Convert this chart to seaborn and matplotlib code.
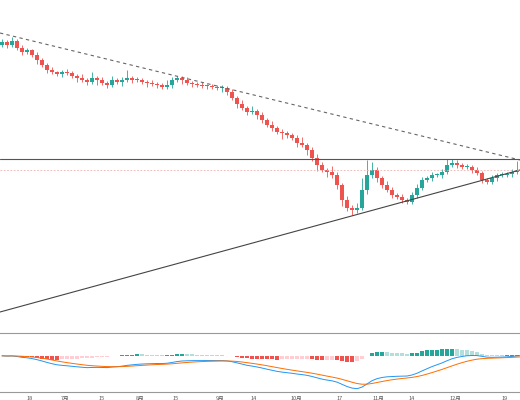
import numpy as np
import pandas as pd
import seaborn as sns
import matplotlib.pyplot as plt

# closing prices, one per candle (open = previous close)
closes = [35.8, 35.5, 35.9, 35.2, 34.8, 35.0, 34.5, 34.0, 33.5, 33.0, 32.8, 32.6, 32.8, 32.7, 32.4,
          32.2, 32.0, 31.8, 32.2, 32.0, 31.7, 31.5, 32.0, 31.8, 32.0, 32.2, 32.0, 32.0, 31.8, 31.7,
          31.6, 31.5, 31.3, 31.5, 32.0, 32.2, 32.0, 31.7, 31.6, 31.5, 31.4, 31.4, 31.3, 31.2, 31.2,
          30.8, 30.2, 29.6, 29.2, 28.8, 28.9, 28.5, 28.0, 27.5, 27.2, 26.8, 26.7, 26.5, 26.2, 25.7,
          25.5, 25.0, 24.2, 23.5, 23.0, 22.8, 22.5, 21.5, 20.0, 19.2, 19.0, 19.2, 21.0, 22.5, 23.0,
          22.2, 21.5, 21.0, 20.5, 20.3, 20.0, 19.8, 20.5, 21.2, 22.0, 22.2, 22.5, 22.5, 22.8, 23.5,
          23.7, 23.5, 23.3, 23.3, 23.0, 22.7, 22.0, 21.8, 22.2, 22.5, 22.5, 22.6, 22.8, 23.0, 23.2]
upper_wick = [0.3, 0.2, 0.4, 0.2, 0.3, 0.2, 0.1, 0.3, 0.2, 0.2, 0.3, 0.1, 0.2, 0.3, 0.2,
              0.2, 0.4, 0.2, 0.6, 0.2, 0.3, 0.2, 0.4, 0.2, 0.3, 0.8, 0.2, 0.3, 0.2, 0.2,
              0.3, 0.2, 0.2, 0.5, 0.3, 0.2, 0.2, 0.3, 0.2, 0.2, 0.3, 0.2, 0.2, 0.2, 0.3,
              0.2, 0.3, 0.2, 0.4, 0.2, 0.5, 0.2, 0.3, 0.2, 0.4, 0.2, 0.3, 0.2, 0.2, 0.3,
              0.6, 0.2, 0.3, 0.4, 0.3, 0.2, 0.6, 0.3, 0.2, 0.4, 0.3, 0.5, 1.2, 1.5, 0.8,
              0.3, 0.2, 0.4, 0.3, 0.2, 0.3, 0.2, 0.3, 0.4, 0.3, 0.2, 0.3, 0.2, 0.3, 0.6,
              0.4, 0.3, 0.2, 0.3, 0.2, 0.3, 0.2, 0.2, 0.3, 0.2, 0.3, 0.2, 0.3, 0.9, 0.3]
lower_wick = [0.2, 0.3, 0.2, 0.2, 0.3, 0.2, 0.2, 0.4, 0.2, 0.3, 0.2, 0.2, 0.3, 0.2, 0.2,
              0.4, 0.2, 0.3, 0.2, 0.5, 0.2, 0.3, 0.2, 0.2, 0.4, 0.2, 0.3, 0.2, 0.2, 0.4,
              0.2, 0.3, 0.2, 0.2, 0.3, 0.2, 0.4, 0.2, 0.3, 0.2, 0.2, 0.3, 0.2, 0.2, 0.4,
              0.3, 0.2, 0.4, 0.2, 0.3, 0.2, 0.4, 0.3, 0.2, 0.3, 0.2, 0.6, 0.3, 0.2, 0.4,
              0.2, 0.5, 0.3, 0.6, 0.2, 0.5, 0.3, 0.4, 0.6, 0.3, 0.5, 0.3, 0.2, 0.4, 0.3,
              0.4, 0.3, 0.2, 0.3, 0.2, 0.3, 0.2, 0.2, 0.3, 0.2, 0.2, 0.3, 0.2, 0.3, 0.2,
              0.2, 0.3, 0.2, 0.2, 0.3, 0.2, 0.3, 0.2, 0.2, 0.3, 0.2, 0.2, 0.3, 0.2, 0.2]
first_open = 35.5

tick_idx = [5.6, 12.6, 20, 27.6, 34.8, 43.6, 50.4, 58.8, 67.6, 75.2, 82, 90.6, 100.6]
tick_labels = ["18", "7月", "15", "8月", "15", "9月", "14", "10月", "17", "11月", "14", "12月", "19"]

# trend / level lines: (index, price) pairs
resist_trend = [(-0.4, 36.7), (103.6, 24.0)]
support_trend = [(-0.4, 8.8), (103.6, 23.0)]
resist_level = 24.1
last_level = 23.0

sns.set_style("white")
plt.rcParams['font.family'] = ['Noto Sans CJK SC', 'DejaVu Sans']

df = pd.DataFrame({"close": closes, "up": upper_wick, "dn": lower_wick})
df["open"] = df["close"].shift(1).fillna(first_open)
df["high"] = df[["open", "close"]].max(axis=1) + df["up"]
df["low"] = df[["open", "close"]].min(axis=1) - df["dn"]
df["i"] = np.arange(len(df))

ema12 = df["close"].ewm(span=12, adjust=False).mean()
ema26 = df["close"].ewm(span=26, adjust=False).mean()
df["dif"] = ema12 - ema26
df["dea"] = df["dif"].ewm(span=9, adjust=False).mean()
df["hist"] = df["dif"] - df["dea"]

UP, DN = "#26a69a", "#ef5350"

fig = plt.figure(figsize=(5.2, 4), dpi=100)
ax = fig.add_axes([0, 0.175, 1, 0.825])
ax2 = fig.add_axes([0, 0.02, 1, 0.148])

for _, r in df.iterrows():
    col = UP if r.close >= r.open else DN
    ax.vlines(r.i, r.low, r.high, color=col, lw=0.6)
    ax.bar(r.i, max(abs(r.close - r.open), 0.06), bottom=min(r.open, r.close),
           width=0.65, color=col, lw=0)

ax.plot(*zip(*resist_trend), color="#666666", ls=(0, (3, 3)), lw=0.8)
ax.plot(*zip(*support_trend), color="#444444", lw=0.8)
ax.axhline(resist_level, color="#555555", lw=0.8)
ax.axhline(last_level, color="#f0b0b0", lw=0.6, ls=(0, (2, 2)))
ax.set_xlim(-0.4, 103.6)
ax.set_ylim(7.0, 40.0)
ax.axis("off")

prev = df["hist"].shift(1).fillna(0)
hist_cols = []
for h, p in zip(df["hist"], prev):
    if h >= 0:
        hist_cols.append("#26a69a" if h >= p else "#b2dfdb")
    else:
        hist_cols.append("#ef5350" if h <= p else "#ffcdd2")
ax2.bar(df["i"], df["hist"], width=0.7, color=hist_cols, lw=0)
sns.lineplot(data=df, x="i", y="dif", ax=ax2, color="#2196f3", lw=0.7)
sns.lineplot(data=df, x="i", y="dea", ax=ax2, color="#ff6d00", lw=0.7)
lo = df[["dif", "dea"]].min().min()
ax2.set_xlim(-0.4, 103.6)
ax2.set_ylim(lo * 1.1, -lo * 0.7)
for s in ["left", "right"]:
    ax2.spines[s].set_visible(False)
ax2.spines["top"].set_color("#999999")
ax2.spines["bottom"].set_color("#999999")
ax2.set_yticks([])
ax2.set_xticks(tick_idx)
ax2.set_xticklabels(tick_labels, fontsize=4, color="#555555")
ax2.tick_params(axis="x", length=2, width=0.5, pad=1, colors="#555555")
ax2.set_xlabel("")
ax2.set_ylabel("")

fig.savefig("out.png", dpi=100)
